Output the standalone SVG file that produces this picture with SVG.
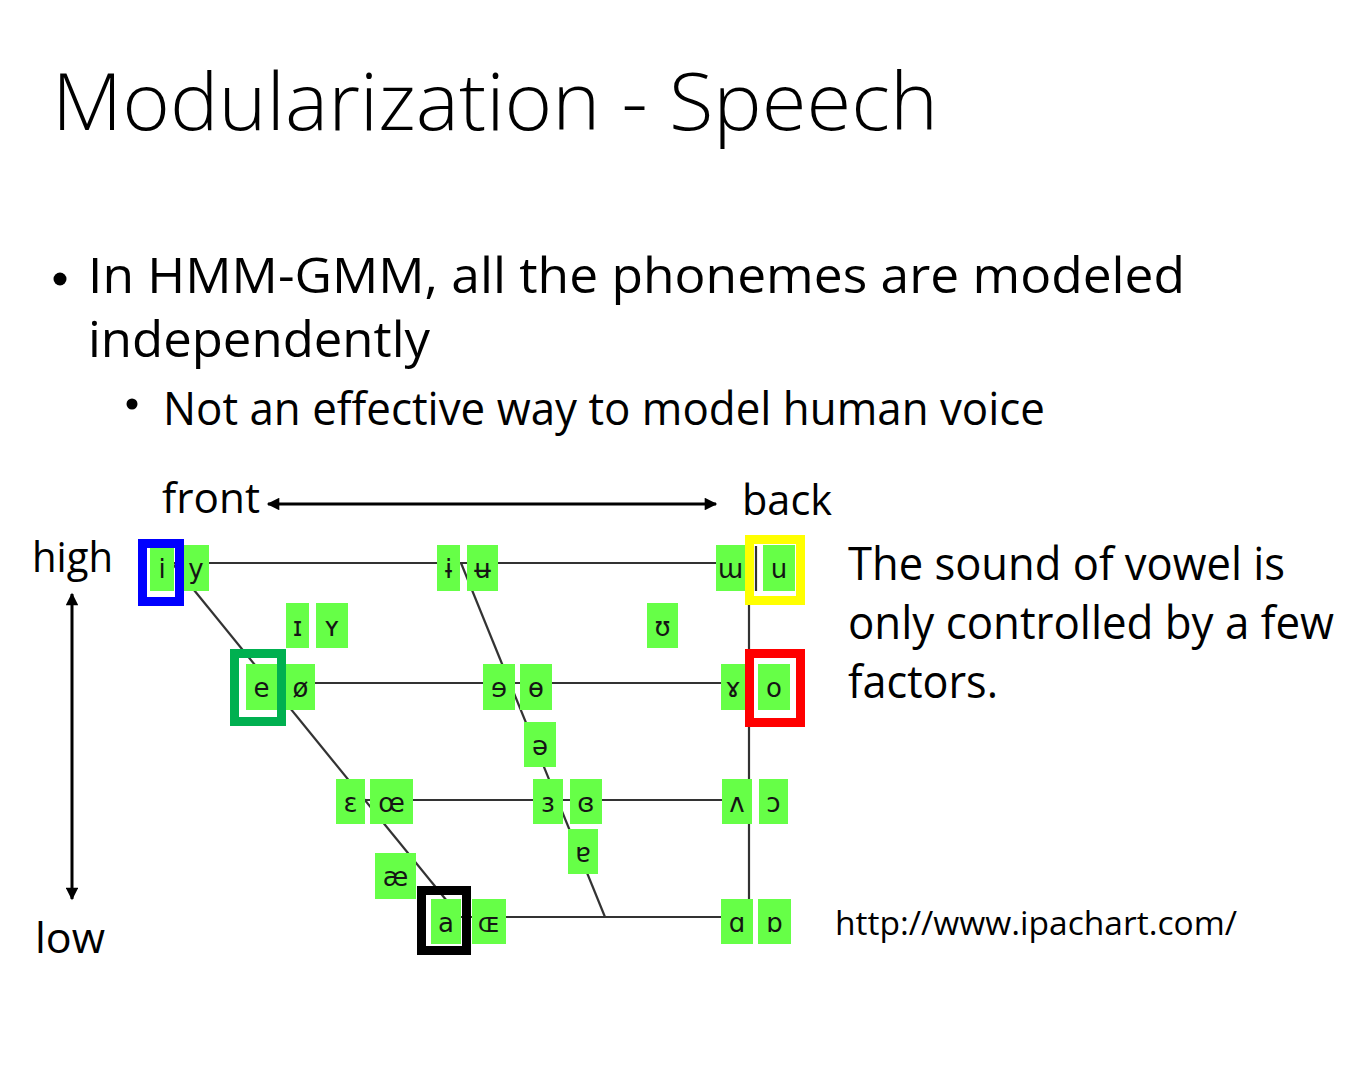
<svg xmlns="http://www.w3.org/2000/svg" width="1367" height="1066" viewBox="0 0 1367 1066">
<defs>
<marker id="ah" viewBox="0 0 10 10" refX="9" refY="5" markerWidth="4.5" markerHeight="4.2" orient="auto-start-reverse" markerUnits="strokeWidth">
<path d="M0,0 L10,5 L0,10 Z" fill="#000"/>
</marker>
<style>
.t{font-family:"Open Sans","Noto Sans","DejaVu Sans",sans-serif;fill:#000}
.cell rect{fill:#66ff47}
.cell text{font-family:"DejaVu Sans",sans-serif;font-size:26px;fill:#151515;text-anchor:middle}
.ln{stroke:#333;stroke-width:2.2;fill:none}
.hl{fill:none;stroke-width:9}
.ar{stroke:#000;stroke-width:3;fill:none;marker-start:url(#ah);marker-end:url(#ah)}
</style>
</defs>
<rect width="1367" height="1066" fill="#fff"/>

<text class="t" x="52" y="130" font-size="80" font-weight="300" textLength="886" lengthAdjust="spacingAndGlyphs">Modularization - Speech</text>

<circle cx="60" cy="279" r="6.5" fill="#000"/>
<text class="t" x="88" y="293" font-size="49" textLength="1097" lengthAdjust="spacingAndGlyphs">In HMM-GMM, all the phonemes are modeled</text>
<text class="t" x="88" y="357" font-size="49" textLength="342" lengthAdjust="spacingAndGlyphs">independently</text>
<circle cx="132" cy="404" r="5.5" fill="#000"/>
<text class="t" x="163" y="425" font-size="45" textLength="882" lengthAdjust="spacingAndGlyphs">Not an effective way to model human voice</text>

<text class="t" x="162" y="513" font-size="42" textLength="98" lengthAdjust="spacingAndGlyphs">front</text>
<text class="t" x="742" y="515" font-size="42" textLength="90" lengthAdjust="spacingAndGlyphs">back</text>
<text class="t" x="32" y="572" font-size="42" textLength="81" lengthAdjust="spacingAndGlyphs">high</text>
<text class="t" x="35" y="953" font-size="42" textLength="70" lengthAdjust="spacingAndGlyphs">low</text>

<g id="arrows">
<line class="ar" x1="268" y1="504" x2="716" y2="504"/>
<line class="ar" x1="72" y1="594" x2="72" y2="899"/>
</g>

<text class="t" x="848" y="580" font-size="46" textLength="437" lengthAdjust="spacingAndGlyphs">The sound of vowel is</text>
<text class="t" x="848" y="639" font-size="46" textLength="486" lengthAdjust="spacingAndGlyphs">only controlled by a few</text>
<text class="t" x="848" y="698" font-size="46" textLength="150" lengthAdjust="spacingAndGlyphs">factors.</text>

<text class="t" x="835" y="935" font-size="32" textLength="402" lengthAdjust="spacingAndGlyphs">http://www.ipachart.com/</text>

<g id="connectors">
<path class="ln" d="M172 563 H749"/>
<path class="ln" d="M269 683 H749"/>
<path class="ln" d="M365 800 H749"/>
<path class="ln" d="M460 917 H749"/>
<path class="ln" d="M172 563 L460 917"/>
<path class="ln" d="M461 563 L605 917"/>
<path class="ln" d="M749 563 V917"/>
<path class="ln" d="M756 546 V591"/>
</g>

<g id="v-i" class="cell"><rect x="150" y="545" width="24" height="46"/><text x="162" y="578">i</text></g>
<g id="v-y" class="cell"><rect x="183" y="545" width="26" height="46"/><text x="196" y="578">y</text></g>
<g id="v-ɨ" class="cell"><rect x="437" y="545" width="23" height="46"/><text x="448.5" y="578">ɨ</text></g>
<g id="v-ʉ" class="cell"><rect x="467" y="545" width="31" height="46"/><text x="482.5" y="578">ʉ</text></g>
<g id="v-ɯ" class="cell"><rect x="716" y="545" width="29" height="46"/><text x="730.5" y="578">ɯ</text></g>
<g id="v-u" class="cell"><rect x="763" y="545" width="32" height="46"/><text x="779" y="578">u</text></g>

<g id="v-ɪ" class="cell"><rect x="286" y="603" width="23" height="45"/><text x="297.5" y="636">ɪ</text></g>
<g id="v-ʏ" class="cell"><rect x="316" y="603" width="32" height="45"/><text x="332" y="636">ʏ</text></g>
<g id="v-ʊ" class="cell"><rect x="647" y="603" width="31" height="45"/><text x="662.5" y="636">ʊ</text></g>

<g id="v-e" class="cell"><rect x="246" y="664" width="31" height="46"/><text x="261.5" y="697">e</text></g>
<g id="v-ø" class="cell"><rect x="286" y="664" width="29" height="46"/><text x="300.5" y="697">ø</text></g>
<g id="v-ɘ" class="cell"><rect x="483" y="664" width="32" height="46"/><text x="499" y="697">ɘ</text></g>
<g id="v-ɵ" class="cell"><rect x="520" y="664" width="32" height="46"/><text x="536" y="697">ɵ</text></g>
<g id="v-ɤ" class="cell"><rect x="721" y="664" width="24" height="46"/><text x="733" y="697">ɤ</text></g>
<g id="v-o" class="cell"><rect x="758" y="664" width="32" height="46"/><text x="774" y="697">o</text></g>

<g id="v-ə" class="cell"><rect x="524" y="722" width="32" height="45"/><text x="540" y="755">ə</text></g>

<g id="v-ɛ" class="cell"><rect x="336" y="779" width="29" height="45"/><text x="350.5" y="812">ɛ</text></g>
<g id="v-œ" class="cell"><rect x="370" y="779" width="43" height="45"/><text x="391.5" y="812">œ</text></g>
<g id="v-ɜ" class="cell"><rect x="533" y="779" width="30" height="45"/><text x="548" y="812">ɜ</text></g>
<g id="v-ɞ" class="cell"><rect x="570" y="779" width="32" height="45"/><text x="586" y="812">ɞ</text></g>
<g id="v-ʌ" class="cell"><rect x="722" y="779" width="30" height="45"/><text x="737" y="812">ʌ</text></g>
<g id="v-ɔ" class="cell"><rect x="759" y="779" width="29" height="45"/><text x="773.5" y="812">ɔ</text></g>

<g id="v-ɐ" class="cell"><rect x="568" y="829" width="30" height="45"/><text x="583" y="862">ɐ</text></g>
<g id="v-æ" class="cell"><rect x="375" y="853" width="41" height="46"/><text x="395.5" y="886">æ</text></g>

<g id="v-a" class="cell"><rect x="431" y="899" width="30" height="45"/><text x="446" y="932">a</text></g>
<g id="v-ɶ" class="cell"><rect x="472" y="899" width="34" height="45"/><text x="489" y="932">ɶ</text></g>
<g id="v-ɑ" class="cell"><rect x="721" y="899" width="32" height="45"/><text x="737" y="932">ɑ</text></g>
<g id="v-ɒ" class="cell"><rect x="758" y="899" width="33" height="45"/><text x="774.5" y="932">ɒ</text></g>

<g id="highlights">
<rect class="hl" stroke="#0000ff" x="142.5" y="543.5" width="37" height="58"/>
<rect class="hl" stroke="#ffff00" x="749.5" y="539.5" width="51" height="61"/>
<rect class="hl" stroke="#00b050" x="234.5" y="653.5" width="47" height="68"/>
<rect class="hl" stroke="#ff0000" x="749.5" y="653.5" width="51" height="69"/>
<rect class="hl" stroke="#000000" x="421.5" y="890.5" width="45" height="60"/>
</g>
</svg>
